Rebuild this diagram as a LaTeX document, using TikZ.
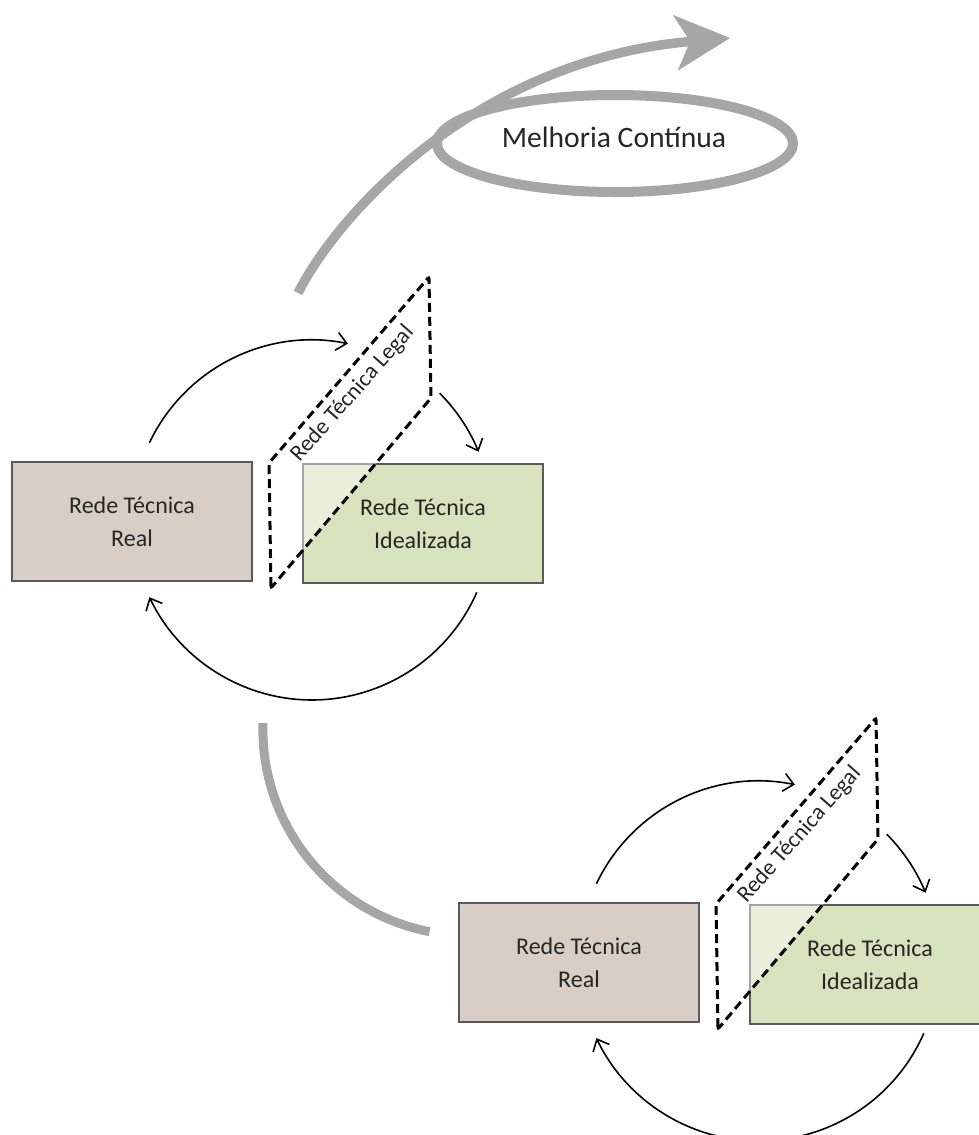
\documentclass[tikz,border=0pt]{standalone}
\usepackage{fontspec}
\setmainfont{Carlito}
\usetikzlibrary{arrows.meta,shapes.geometric}
\definecolor{realfill}{HTML}{D8CEC6}
\definecolor{idealfill}{HTML}{D7E3BC}
\definecolor{boxline}{HTML}{5A5A5A}
\definecolor{flowgray}{HTML}{A6A6A6}
\definecolor{txt}{HTML}{262626}
\newcommand\drawcycle[1]{%
  \node[realbox] (#1real) at (132,521.5) {Rede Técnica\\Real};
  \node[idealbox] (#1ideal) at (423,523.5) {Rede Técnica\\Idealizada};
  \coordinate (#1ul) at (269,463);
  \coordinate (#1tr) at (429,277);
  \coordinate (#1rl) at (431,398);
  \coordinate (#1bl) at (271,588);
  \path[legalplane] (#1bl) -- (#1ul) -- (#1tr) -- (#1rl) -- cycle;
  \node[legaltext] (#1legal) at (357,398) {Rede Técnica Legal};
  \coordinate (#1topstart) at (149.4,442.8);
  \coordinate (#1rightstart) at (439.7,393.2);
  \coordinate (#1botstart) at (476.8,592.3);
  \draw[cyc] (#1topstart) arc[start angle=205.4, end angle=281.5, radius=180];
  \draw[cyc] (#1rightstart) arc[start angle=315.2, end angle=337.7, radius=180];
  \draw[cyc] (#1botstart) arc[start angle=23.7, end angle=154.6, radius=180];
}
\begin{document}
\begin{tikzpicture}[x=1pt,y=-1pt,
  box/.style={draw=boxline, line width=1.5pt, minimum width=240pt, minimum height=119pt,
    inner sep=0pt, align=center, font=\fontsize{24}{33}\selectfont, text=txt},
  realbox/.style={box, fill=realfill},
  idealbox/.style={box, fill=idealfill},
  legalplane/.style={draw=black, line width=3pt, dash pattern=on 9pt off 5pt,
    fill=white, fill opacity=0.45, rounded corners=2pt},
  legaltext/.style={font=\fontsize{23}{26}\selectfont, text=txt, rotate=48.5, anchor=base},
  cyc/.style={draw=black, line width=1.6pt,
    -{Straight Barb[length=10pt,width=18pt,line width=1.6pt]}},
  flow/.style={draw=flowgray, line width=9.5pt}
]
\useasboundingbox (0,0) rectangle (979,1135);
\clip (0,0) rectangle (979,1135);
% continuous improvement arrow
\coordinate (gs) at (298,293);
\coordinate (ge) at (730,38);
\draw[flow, -{Stealth[length=55pt,width=56pt,inset=15pt,line width=0pt]}]
  (gs) .. controls (340,210) and (480,60) .. (ge);
\node[ellipse, draw=flowgray, line width=10pt, minimum width=356pt, minimum height=97pt]
  (mc) at (615,143.5) {};
\node[font=\fontsize{29.6}{32}\selectfont, text=txt, anchor=base] (mctext) at (614,147)
  {Melhoria Contínua};
% upper cycle
\drawcycle{t}
% middle grey arc
\coordinate (ms) at (263,723);
\draw[flow, line width=9pt] (ms) arc[start angle=181.8, end angle=101, radius=206];
% lower cycle
\begin{scope}[shift={(447,441)}]
\drawcycle{b}
\end{scope}
\end{tikzpicture}
\end{document}
